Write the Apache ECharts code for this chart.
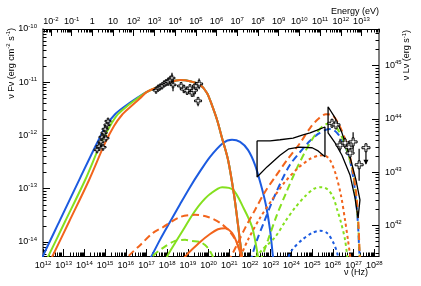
<!DOCTYPE html>
<html><head><meta charset="utf-8">
<script src="https://cdn.jsdelivr.net/npm/echarts@6/dist/echarts.min.js"></script>
<style>html,body{margin:0;padding:0;background:#fff}#c{width:421px;height:286px}</style>
</head><body><div id="c"></div>
<script>
// All values are log10: [log10(nu / Hz), log10(nuFnu / erg cm^-2 s^-1)]
const syncTail = [[17.02,-11.18],[17.56,-11.09],[18.14,-11.00],[18.62,-10.96],[19.10,-10.98],[19.59,-11.05],[19.92,-11.20],[20.16,-11.43],[20.41,-11.71],[20.65,-12.05],[20.94,-12.46],[21.23,-13.12],[21.42,-13.68],[21.61,-14.28],[21.71,-14.53]];
const syncBlueHead = [[11.76,-14.49],[12.00,-14.26],[12.82,-13.59],[13.79,-12.80],[14.61,-12.14],[15.04,-11.82],[15.48,-11.60],[15.96,-11.45],[16.44,-11.32]];
const syncGreenHead = [[12.00,-14.46],[12.24,-14.28],[13.06,-13.62],[14.03,-12.84],[14.80,-12.14],[15.24,-11.82],[15.62,-11.60],[16.06,-11.45],[16.54,-11.31]];
const syncOrangeHead = [[12.20,-14.46],[12.44,-14.28],[13.26,-13.62],[14.22,-12.84],[15.00,-12.14],[15.43,-11.82],[15.82,-11.61],[16.20,-11.47],[16.69,-11.30]];

const blueHump = [[17.07,-14.38],[17.22,-14.28],[17.65,-13.96],[18.14,-13.62],[18.62,-13.29],[19.10,-12.97],[19.59,-12.67],[20.07,-12.40],[20.70,-12.14],[21.13,-12.08],[21.52,-12.12],[21.90,-12.27],[22.24,-12.55],[22.53,-12.93],[22.77,-13.31],[22.97,-13.78],[23.11,-14.28],[23.20,-14.50]];
const greenHump = [[17.90,-14.45],[17.99,-14.28],[18.38,-14.02],[18.76,-13.78],[19.15,-13.53],[19.59,-13.29],[20.07,-13.10],[20.65,-12.97],[21.18,-13.02],[21.66,-13.34],[22.10,-13.72],[22.39,-14.28],[22.45,-14.45]];
const greenLowDash = [[17.10,-14.45],[17.27,-14.28],[17.80,-14.11],[18.38,-13.98],[18.86,-13.96],[19.20,-13.98],[19.59,-14.00],[19.92,-14.09],[20.21,-14.28],[20.30,-14.45]];
const orangeLowDash = [[15.95,-14.45],[16.11,-14.28],[16.69,-14.06],[17.31,-13.83],[17.80,-13.72],[18.62,-13.53],[19.34,-13.49],[19.97,-13.53],[20.55,-13.64],[21.03,-13.81],[21.37,-14.02],[21.57,-14.28],[21.62,-14.45]];
const orangeSmallHump = [[18.75,-14.45],[18.86,-14.28],[19.59,-14.00],[20.07,-13.85],[20.45,-13.76],[20.79,-13.74],[21.13,-13.83],[21.37,-14.02],[21.52,-14.19],[21.61,-14.28],[21.66,-14.45]];

const orangeLongHE = [[20.94,-14.38],[21.32,-14.09],[21.76,-13.74],[22.24,-13.40],[22.72,-13.06],[23.21,-12.78],[23.79,-12.46],[24.42,-12.14],[24.90,-11.86],[25.29,-11.69],[25.67,-11.60],[26.01,-11.63],[26.35,-11.84],[26.69,-12.18],[26.93,-12.59],[27.12,-13.06],[27.22,-13.55],[27.27,-13.96],[27.31,-14.38]];
const orangeShortHE = [[21.42,-14.38],[21.90,-13.96],[22.48,-13.55],[23.06,-13.21],[23.69,-12.87],[24.32,-12.61],[24.90,-12.44],[25.29,-12.38],[25.57,-12.37],[25.86,-12.46],[26.15,-12.74],[26.40,-13.14],[26.59,-13.59],[26.73,-13.96],[26.88,-14.38]];
const greenLongHE = [[22.48,-14.38],[22.87,-13.96],[23.30,-13.49],[23.74,-13.08],[24.22,-12.65],[24.71,-12.27],[25.14,-11.99],[25.53,-11.82],[25.86,-11.77],[26.15,-11.84],[26.44,-12.03],[26.73,-12.33],[26.98,-12.70],[27.12,-13.15],[27.22,-13.62],[27.27,-14.06],[27.31,-14.38]];
const greenShortHE = [[22.10,-14.38],[22.58,-14.15],[23.21,-13.91],[23.69,-13.62],[24.17,-13.36],[24.66,-13.14],[25.09,-13.00],[25.48,-12.97],[25.77,-13.02],[26.01,-13.15],[26.20,-13.38],[26.40,-13.64],[26.59,-13.96],[26.73,-14.38]];
const blueLongHE = [[22.00,-14.38],[22.34,-13.96],[22.68,-13.62],[23.06,-13.25],[23.50,-12.87],[23.93,-12.55],[24.42,-12.31],[24.90,-12.10],[25.29,-11.97],[25.62,-11.90],[25.91,-11.88],[26.20,-11.95],[26.49,-12.12],[26.78,-12.40],[26.98,-12.78],[27.12,-13.21],[27.22,-13.70],[27.27,-14.11],[27.31,-14.38]];
const blueShortHE = [[23.74,-14.38],[24.03,-14.15],[24.51,-13.96],[25.00,-13.83],[25.38,-13.79],[25.72,-13.83],[26.01,-14.00],[26.20,-14.19],[26.30,-14.38]];

const fermiUpper = [[22.34,-12.10],[22.97,-12.10],[23.45,-12.08],[24.08,-12.05],[24.56,-11.99],[24.90,-11.95],[25.24,-11.90],[25.62,-11.84]];
const fermiLower = [[22.34,-12.78],[22.82,-12.59],[23.45,-12.37],[23.88,-12.25],[24.37,-12.22],[25.00,-12.23],[25.29,-12.29],[25.62,-12.40]];
const hessUpper = [[25.77,-11.46],[26.11,-11.67],[26.44,-11.95],[26.83,-12.40],[27.12,-12.84],[27.31,-13.21]];
const hessLower = [[25.77,-11.95],[26.11,-12.14],[26.44,-12.37],[26.83,-12.74],[27.07,-13.17],[27.22,-13.55]];

// data points: [log nu, log nuFnu, err down (dex), err up (dex), upper limit flag]
const optical = [[14.61,-12.27,0.03,0.03,0],[14.71,-12.20,0.03,0.03,0],[14.80,-12.12,0.04,0.04,0],[14.85,-12.03,0.05,0.05,0],[14.95,-11.95,0.04,0.04,0],[15.00,-11.88,0.04,0.04,0],[15.09,-11.80,0.05,0.05,0],[15.14,-11.73,0.05,0.05,0],[15.04,-12.05,0.04,0.04,0],[14.90,-12.22,0.04,0.04,0]];
const xray = [[17.46,-11.15,0.04,0.04,0],[17.56,-11.11,0.04,0.04,0],[17.65,-11.09,0.04,0.04,0],[17.75,-11.07,0.05,0.05,0],[17.85,-11.03,0.05,0.05,0],[17.94,-11.01,0.06,0.06,0],[18.04,-10.99,0.08,0.08,0],[18.14,-10.96,0.08,0.08,0],[18.23,-10.92,0.1,0.1,0],[18.28,-11.05,0.12,0.12,0]];
const hardX = [[18.67,-11.07,0.04,0.04,0],[18.81,-11.13,0.04,0.04,0],[18.96,-11.16,0.08,0.08,0],[19.10,-11.11,0.05,0.05,0],[19.20,-11.20,0.06,0.06,0],[19.29,-11.15,0.12,0.12,0],[19.39,-11.07,0.06,0.06,0],[19.54,-11.03,0.1,0.1,0],[19.49,-11.35,0.1,0.05,0]];
const vhe = [[25.96,-11.77,0.05,0.05,0],[26.15,-11.80,0.06,0.06,0],[26.35,-12.18,0.12,0.12,0],[26.59,-12.14,0.1,0.1,0],[26.78,-12.22,0.12,0.12,0],[26.98,-12.12,0.18,0.18,0],[26.83,-12.33,0.1,0.1,0],[27.27,-12.55,0.3,0.3,0],[27.60,-12.23,0,0,1]];

// axis ranges (log10)
const X0 = 12, X1 = 28.23;          // nu (Hz)
const LOG_H_EV = -14.383;           // log10(h in eV s)
const Y0 = -14.263, Y1 = -10;       // nuFnu
const LUM_OFFSET = 55.69;           // log10(4 pi d^2)

const font = 'Liberation Sans, Arial, Helvetica, sans-serif';
const rich = {
  b: {fontSize: 9, lineHeight: 12, fontFamily: font, color: '#000'},
  s: {fontSize: 6, lineHeight: 5, verticalAlign: 'top', fontFamily: font, color: '#000'}
};
const pow10 = n => '{b|10}{s|' + n + '}';
const energyLabel = n => n === 0 ? '{b|1}' : (n === 1 ? '{b|10}' : pow10(n));
function majors(lo, hi){ const o=[]; for(let n=Math.ceil(lo-1e-9); n<=Math.floor(hi+1e-9); n++) o.push(n); return o; }
function minors(lo, hi){ const o=[]; for(let n=Math.floor(lo)-1; n<=Math.ceil(hi); n++){ for(let k=2;k<=9;k++){ const v=n+Math.log10(k); if(v>=lo && v<=hi) o.push(+v.toFixed(5)); } } return o; }

function axisPair(pos, min, max, fmt, color, lw, majLen, minLen, margin){
  const base = {gridIndex:0, type:'value', position:pos, min, max, splitLine:{show:false}, silent:true};
  const major = Object.assign({}, base, {
    axisLine:{show:true, onZero:false, lineStyle:{color, width:lw}},
    axisTick:{show:true, inside:true, length:majLen, customValues:majors(min,max), lineStyle:{color:'#000', width:1}},
    axisLabel:{show:true, customValues:majors(min,max), margin, formatter:v=>fmt(Math.round(v)), rich}
  });
  const minor = Object.assign({}, base, {
    axisLine:{show:false, onZero:false},
    axisTick:{show:true, inside:true, length:minLen, customValues:minors(min,max), lineStyle:{color:'#000', width:1}},
    axisLabel:{show:false}
  });
  return [major, minor];
}

const xAxes = [].concat(
  axisPair('bottom', X0, X1, pow10, '#000', 1, 7, 3.5, 4),
  axisPair('top', X0+LOG_H_EV, X1+LOG_H_EV, energyLabel, '#000', 1, 7, 3.5, 1)
);
const yAxes = [].concat(
  axisPair('left', Y0, Y1, pow10, '#555', 1.5, 7, 3.5, 6),
  axisPair('right', Y0+LUM_OFFSET, Y1+LUM_OFFSET, pow10, '#555', 1.5, 7, 3.5, 6)
);

const C = {blue:'#1c5be0', green:'#84e01e', orange:'#f2641c'};
const LONG = [7,4], SHORT = [3,3];
function curve(data, color, dash){
  return {type:'line', data, xAxisIndex:0, yAxisIndex:0, showSymbol:false, symbol:'none',
    smooth:0.3, clip:true, silent:true,
    lineStyle:{color, width:2, type:dash || 'solid'}};
}
function outline(upper, lower){
  const d = upper.concat(lower.slice().reverse(), [upper[0]]);
  return {type:'line', data:d, xAxisIndex:0, yAxisIndex:0, showSymbol:false, symbol:'none', smooth:false, clip:true, silent:true,
    lineStyle:{color:'#000', width:1.3}};
}
function renderErr(params, api){
  const x=api.value(0), y=api.value(1), dn=api.value(2), up=api.value(3), ul=api.value(4);
  const ch=[];
  if (ul) {
    const a=api.coord([x,y]), b=api.coord([x,y-0.3]);
    ch.push({type:'line', shape:{x1:a[0],y1:a[1],x2:b[0],y2:b[1]}, style:{stroke:'#000', lineWidth:1.2}});
    ch.push({type:'polygon', shape:{points:[[b[0]-2.5,b[1]-4],[b[0]+2.5,b[1]-4],[b[0],b[1]+1]]}, style:{fill:'#000'}});
  } else {
    const a=api.coord([x,y-dn]), b=api.coord([x,y+up]);
    ch.push({type:'line', shape:{x1:a[0],y1:a[1],x2:b[0],y2:b[1]}, style:{stroke:'#000', lineWidth:1.2}});
  }
  return {type:'group', children:ch};
}
const CROSS = 'path://M3,0L5,0L5,3L8,3L8,5L5,5L5,8L3,8L3,5L0,5L0,3L3,3Z';
function points(arr, size){
  return [
    {type:'custom', data:arr, renderItem:renderErr, encode:{x:0,y:1}, xAxisIndex:0, yAxisIndex:0, silent:true, z:5},
    {type:'scatter', data:arr.map(p=>[p[0],p[1]]), symbol:CROSS, symbolSize:size, xAxisIndex:0, yAxisIndex:0, silent:true, z:6,
      itemStyle:{color:'#fff', borderColor:'#000', borderWidth:1, opacity:1}}
  ];
}

const series = [
  curve(syncBlueHead.concat(syncTail), C.blue),
  curve(blueHump, C.blue),
  curve(blueLongHE, C.blue, LONG),
  curve(blueShortHE, C.blue, SHORT),
  curve(syncGreenHead.concat(syncTail), C.green),
  curve(greenHump, C.green),
  curve(greenLowDash, C.green, LONG),
  curve(greenLongHE, C.green, LONG),
  curve(greenShortHE, C.green, SHORT),
  curve(syncOrangeHead.concat(syncTail), C.orange),
  curve(orangeLowDash, C.orange, LONG),
  curve(orangeSmallHump, C.orange),
  curve(orangeLongHE, C.orange, LONG),
  curve(orangeShortHE, C.orange, SHORT),
  outline(fermiUpper, fermiLower),
  outline(hessUpper, hessLower)
].concat(points(optical,6), points(xray,6), points(hardX,7), points(vhe,8));

const t = {fontSize:9, fontFamily:font, color:'#000'};
const s = {fontSize:6, lineHeight:5, verticalAlign:'top', fontFamily:font, color:'#000'};
const titleRich = {t:Object.assign({lineHeight:12}, t), s};

const chart = echarts.init(document.getElementById('c'), null, {renderer:'canvas'});
chart.setOption({
  animation:false,
  backgroundColor:'#fff',
  grid:{left:43, right:42, top:29, bottom:30, containLabel:false, outerBoundsMode:'none'},
  xAxis:xAxes,
  yAxis:yAxes,
  series,
  graphic:[
    {type:'text', x:11.5, y:28, rotation:Math.PI/2, silent:true,
      style:{text:'{t|ν Fν (erg cm}{s|-2}{t| s}{s|-1}{t|)}', rich:titleRich, align:'right', verticalAlign:'middle'}},
    {type:'text', x:407, y:30, rotation:Math.PI/2, silent:true,
      style:{text:'{t|ν Lν (erg s}{s|-1}{t|)}', rich:titleRich, align:'right', verticalAlign:'middle'}},
    {type:'text', x:379, y:12, silent:true,
      style:{text:'Energy (eV)', fontSize:9, fontFamily:font, fill:'#000', align:'right', verticalAlign:'middle'}},
    {type:'text', x:368, y:273, silent:true,
      style:{text:'ν (Hz)', fontSize:9, fontFamily:font, fill:'#000', align:'right', verticalAlign:'middle'}}
  ]
});
</script></body></html>
